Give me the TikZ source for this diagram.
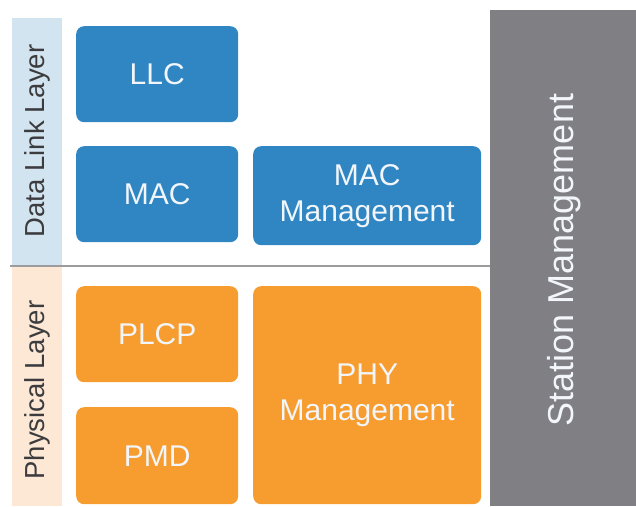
\documentclass[tikz,border=0pt]{standalone}
\usepackage{fontspec}
\setmainfont{Liberation Sans}
\usetikzlibrary{positioning}
\definecolor{bluemain}{HTML}{2F86C2}
\definecolor{orangemain}{HTML}{F79D30}
\definecolor{graymain}{HTML}{808084}
\definecolor{bluebg}{HTML}{D3E4F1}
\definecolor{orangebg}{HTML}{FDE8D6}
\definecolor{labeltext}{HTML}{3C3C3E}
\definecolor{boxtext}{HTML}{F2F6FA}
\definecolor{rulegray}{HTML}{9C9C9E}
\tikzset{
  layerbox/.style={anchor=north west,rounded corners=8pt,inner sep=0pt,
    align=center,text=boxtext,font=\fontsize{30}{36}\selectfont},
  bluebox/.style={layerbox,fill=bluemain},
  orangebox/.style={layerbox,fill=orangemain},
  sidelabel/.style={rotate=90,text=labeltext,font=\fontsize{27.5}{30}\selectfont}
}

\begin{document}
\begin{tikzpicture}[x=1pt,y=-1pt]
  \useasboundingbox (0,0) rectangle (636,506);
  % layer strips
  \fill[bluebg] (12,18) rectangle (62,266);
  \fill[orangebg] (12,266) rectangle (62,506);
  \node[sidelabel] (dll) at (37,141) {Data Link Layer};
  \node[sidelabel] (phy) at (37,390) {Physical Layer};
  % station management
  \node[anchor=north west,fill=graymain,minimum width=146pt,minimum height=496pt,inner sep=0pt] (stabox) at (490,10) {};
  \node[rotate=90,text=boxtext,font=\fontsize{36}{40}\selectfont] (sta) at (564,260) {Station Management};
  % separator
  \coordinate (sepl) at (10,266);
  \coordinate (sepr) at (490,266);
  \draw[rulegray,line width=1.6pt] (sepl) -- (sepr);
  % data link layer
  \node[bluebox,minimum width=162pt,minimum height=96pt] (llc) at (76,26) {LLC};
  \node[bluebox,minimum width=162pt,minimum height=96pt] (mac) at (76,146) {MAC};
  \node[bluebox,minimum width=228pt,minimum height=99pt] (macmgmt) at (253,146) {MAC\\Management};
  % physical layer
  \node[orangebox,minimum width=162pt,minimum height=96pt] (plcp) at (76,286) {PLCP};
  \node[orangebox,minimum width=162pt,minimum height=97pt] (pmd) at (76,407) {PMD};
  \node[orangebox,minimum width=228pt,minimum height=218pt] (phymgmt) at (253,286) {PHY\\Management};
\end{tikzpicture}
\end{document}
